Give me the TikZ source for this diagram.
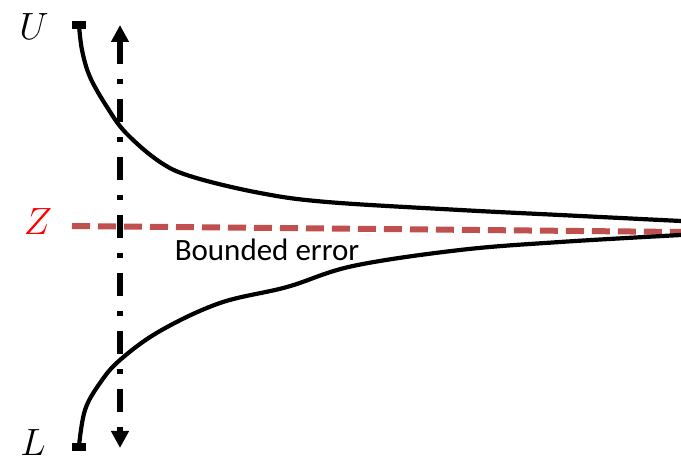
\RequirePackage{fix-cm}
\documentclass[tikz,border=0pt]{standalone}
\usepackage{fontspec}
\newfontfamily\calib{Carlito}
\usetikzlibrary{arrows.meta}
\definecolor{zred}{RGB}{192,80,77}
\tikzset{
  bound/.style={line width=4.2pt, line cap=round},
  capbar/.style={fill=black, draw=none},
  zline/.style={zred, line width=6pt, dash pattern=on 18pt off 8pt},
  gaparrow/.style={line width=5.5pt, dash pattern=on 23pt off 15pt on 5pt off 15pt,
    {Triangle[width=17pt,length=17pt]}-{Triangle[width=17pt,length=17pt]}},
  lab/.style={font=\fontsize{38}{42}\selectfont, inner sep=0pt}
}
\begin{document}
\begin{tikzpicture}[x=1pt,y=-1pt]
\useasboundingbox (0,0) rectangle (681,462);
% labels
\node[lab] (U) at (34,27) {$U$};
\node[lab] (L) at (33,443) {$L$};
\node[lab, text=red] (Z) at (38,222) {$Z$};
\node[font=\calib\fontsize{31}{36}\selectfont, inner sep=0pt] (be) at (267,250) {Bounded error};
% Z line
\coordinate (z0) at (72,226);
\coordinate (z1) at (681,232);
\draw[zline] (z0) -- (z1);
% upper bound
\draw[bound] plot[smooth, tension=0.6] coordinates {(79,25) (82,50) (90,77) (107,107) (126,133) (160,162) (193,177) (260,193) (327,202) (460,210) (560,215) (681,221)};
\fill[capbar] (72,21) rectangle (86,29);
% lower bound
\draw[bound] plot[smooth, tension=0.6] coordinates {(79,446) (85,410) (100,383) (120,360) (160,331) (220,303) (287,287) (353,266) (460,250) (560,242) (681,235)};
\fill[capbar] (72,443) rectangle (86,451);
% vertical arrow
\coordinate (a0) at (120,448);
\coordinate (a1) at (120,25);
\draw[gaparrow] (a1) -- (a0);
\end{tikzpicture}
\end{document}
